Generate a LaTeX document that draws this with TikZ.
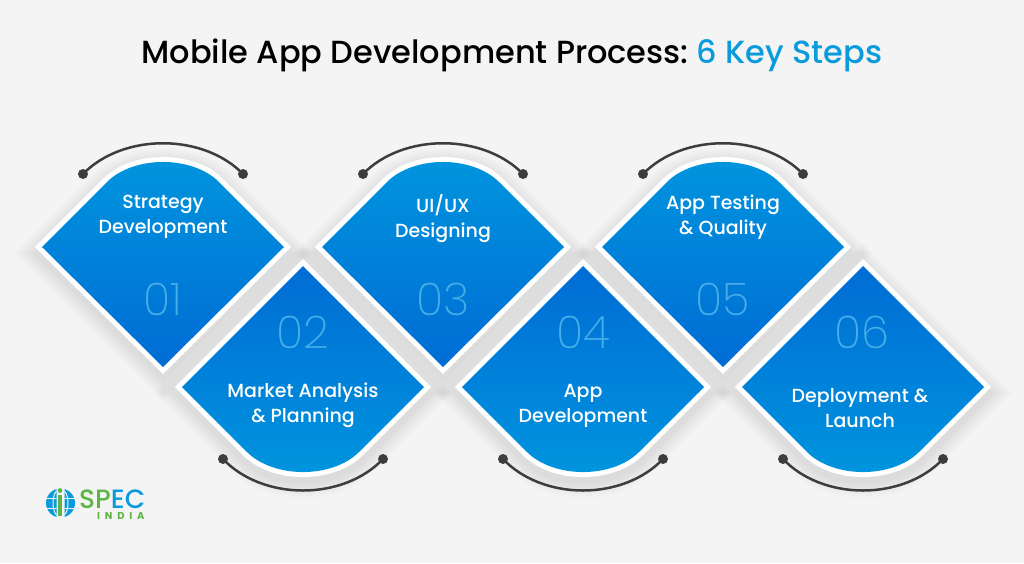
\documentclass[tikz,border=0pt]{standalone}
\usepackage{fontspec}
\setmainfont{Poppins}
\newfontfamily\pmed{Poppins Medium}
\newfontfamily\plight{Poppins ExtraLight}
\newfontfamily\pbold{Poppins Bold}[LetterSpace=48]
\definecolor{bgc}{HTML}{F4F4F4}
\definecolor{lightb}{HTML}{0095DE}
\definecolor{darkb}{HTML}{006CD5}
\definecolor{arcc}{HTML}{3D3D3D}
\definecolor{numc}{HTML}{45ADE8}
\definecolor{tealb}{HTML}{0A9BDC}
\definecolor{logog}{HTML}{5DB546}
\tikzset{
  x=1pt,y=-1pt,
  steplabel/.style={text=white,font=\pmed\fontsize{19}{25}\selectfont,align=center,inner sep=0pt},
  numlabel/.style={text=numc,font=\plight\fontsize{45}{45}\selectfont,inner sep=0pt},
  arcdot/.style={circle,fill=arcc,minimum size=10pt,inner sep=0pt},
  arcline/.style={draw=arcc,line width=2.5pt},
  shadowline/.style={draw=black,draw opacity=.012,line join=miter},
}
\newcommand{\uppath}[1]{(#1-121,247) -- (#1-56,182) .. controls (#1-29.3,155.3) and (#1+29.3,155.3) .. (#1+56,182) -- (#1+121,247) -- (#1,367) -- cycle}
\newcommand{\downpath}[1]{(#1-121,387) -- (#1-56,452) .. controls (#1-29.3,478.7) and (#1+29.3,478.7) .. (#1+56,452) -- (#1+121,387) -- (#1,266) -- cycle}
\newcommand{\softshadow}[1]{\foreach \w in {12,16,20,24,28,32,36,40}{\path[shadowline,line width=\w pt,yshift=-6pt] #1;}}
\begin{document}
\begin{tikzpicture}
\fill[bgc] (0,0) rectangle (1024,563);
\useasboundingbox (0,0) rectangle (1024,563);
% shadows
\foreach \c in {163,443,723}{\softshadow{\uppath{\c}}}
\foreach \c in {303,583,863}{\softshadow{\downpath{\c}}}
% shapes
\foreach \c in {163,443,723}{
  \draw[white,line width=10pt] \uppath{\c};
  \shade[top color=lightb,bottom color=darkb] \uppath{\c};
}
\foreach \c in {303,583,863}{
  \draw[white,line width=10pt] \downpath{\c};
  \shade[top color=darkb,bottom color=lightb] \downpath{\c};
}
% title
\node[inner sep=0pt,font=\pmed\fontsize{32}{38}\selectfont] (title) at (512,55) {Mobile App Development Process:\hspace{-3pt} \textcolor{tealb}{6 Key Steps}};
% labels
\node[steplabel] (s1) at (163,216.5) {Strategy\\Development};
\node[steplabel] (s2) at (303,405) {Market Analysis\\\& Planning};
\node[steplabel] (s3) at (443,219) {UI/UX\\Designing};
\node[steplabel] (s4) at (583,405.5) {App\\Development};
\node[steplabel] (s5) at (723,217.5) {App Testing\\\& Quality};
\node[steplabel] (s6) at (860,408.5) {Deployment \&\\Launch};
\node[numlabel] (n1) at (163,299) {01};
\node[numlabel] (n2) at (303,332) {02};
\node[numlabel] (n3) at (443,299) {03};
\node[numlabel] (n4) at (583,332) {04};
\node[numlabel] (n5) at (723,299) {05};
\node[numlabel] (n6) at (862,332) {06};
% arcs
\foreach \i/\c in {1/163,3/443,5/723}{
  \node[arcdot] (a\i) at (\c-80,174) {};
  \node[arcdot] (b\i) at (\c+80,174) {};
  \draw[arcline] (a\i.center) .. controls +(40,-41) and +(-40,-41) .. (b\i.center);
}
\foreach \i/\c in {2/303,4/583,6/863}{
  \node[arcdot] (a\i) at (\c-80,459) {};
  \node[arcdot] (b\i) at (\c+80,459) {};
  \draw[arcline] (a\i.center) .. controls +(40,42) and +(-40,42) .. (b\i.center);
}
% logo
\begin{scope}
  \clip (45,489) rectangle (56.5,518);
  \fill[tealb] (60.5,503) circle (14.5);
  \draw[bgc,line width=1pt] (60.5,503) ellipse (7.5 and 14.5);
  \draw[bgc,line width=1pt] (45,498) -- (60,498) (45,508) -- (60,508);
\end{scope}
\begin{scope}
  \clip (64.5,489) rectangle (76,518);
  \fill[tealb] (60.5,503) circle (14.5);
  \draw[bgc,line width=1pt] (60.5,503) ellipse (7.5 and 14.5);
  \draw[bgc,line width=1pt] (60,498) -- (76,498) (60,508) -- (76,508);
\end{scope}
\fill[logog] (60,490.5) circle (2.4);
\fill[logog] (58.2,495) rectangle (61.8,516);
\node[inner sep=0pt,anchor=base west,text depth=0pt,font=\pmed\fontsize{26.5}{26.5}\selectfont] (spec) at (79,508) {\textcolor{logog}{SP}\textcolor{tealb}{EC}};
\node[inner sep=0pt,anchor=base west,text=logog,font=\pbold\fontsize{10}{10}\selectfont] (india) at (97,519) {INDIA};
\end{tikzpicture}
\end{document}
